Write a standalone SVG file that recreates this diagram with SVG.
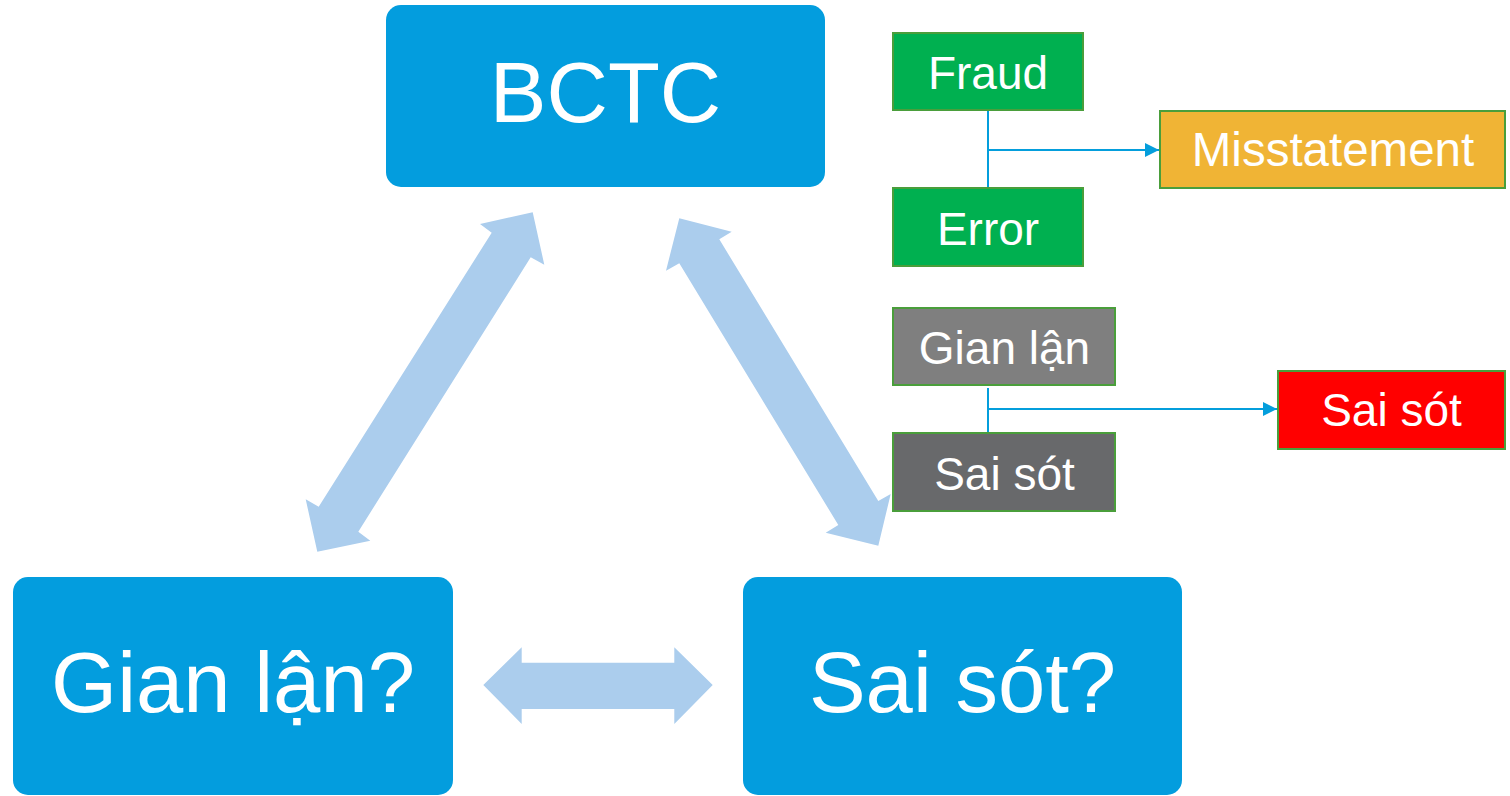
<svg xmlns="http://www.w3.org/2000/svg" width="1510" height="796" viewBox="0 0 1510 796">
  <style>
    .main { fill: #039DDE; }
    .big { font-family: "Liberation Sans", Arial, sans-serif; font-size: 85px; fill: #FFFFFF; text-anchor: middle; }
    .small { font-family: "Liberation Sans", Arial, sans-serif; font-size: 46px; fill: #FFFFFF; text-anchor: middle; }
    .sbox { stroke: #4A9E3B; stroke-width: 2; }
    .fat { fill: #ABCDED; }
    .conn { stroke: #049EDC; stroke-width: 2; fill: none; }
  </style>
  <defs>
    <marker id="ah" viewBox="0 0 14 14" refX="14" refY="7" markerWidth="14" markerHeight="14" markerUnits="userSpaceOnUse" orient="auto">
      <path d="M0,0 L14,7 L0,14 Z" fill="#049EDC"/>
    </marker>
  </defs>

  <g id="connectors">
    <polygon class="fat" points="532.7,212.3 544.3,264.7 530.7,257.3 358.3,531.7 370.3,540.7 317.3,551.7 305.7,499.3 318.7,506.7 491.7,232.7 480,224"/>
    <polygon class="fat" points="679.3,218.3 731.7,231.7 719.3,239.3 878.3,501 890.7,494 878.3,545.7 825.7,532.7 838.3,525 679.3,263.3 666,270.7"/>
    <polygon class="fat" points="483.3,685 521.7,647.3 521.7,662.7 674.3,662.7 674.3,647.3 712.7,685 674.3,724 674.3,709 521.7,709 521.7,724"/>
    <line class="conn" x1="988" y1="111" x2="988" y2="188"/>
    <line class="conn" x1="988" y1="150" x2="1159" y2="150" marker-end="url(#ah)"/>
    <line class="conn" x1="988" y1="388" x2="988" y2="433"/>
    <line class="conn" x1="988" y1="409" x2="1277" y2="409" marker-end="url(#ah)"/>
  </g>

  <g id="bctc">
    <rect class="main" x="386" y="5" width="439" height="182" rx="15" ry="15"/>
    <text class="big" x="605.5" y="122">BCTC</text>
  </g>
  <g id="gianlan-main">
    <rect class="main" x="13" y="577" width="440" height="218" rx="15" ry="15"/>
    <text class="big" x="233" y="712">Gian lận?</text>
  </g>
  <g id="saisot-main">
    <rect class="main" x="743" y="577" width="439" height="218" rx="15" ry="15"/>
    <text class="big" x="962.5" y="712">Sai sót?</text>
  </g>

  <g id="fraud">
    <rect class="sbox" x="893" y="33" width="190" height="77" fill="#00B050"/>
    <text class="small" x="988" y="89">Fraud</text>
  </g>
  <g id="error">
    <rect class="sbox" x="893" y="188" width="190" height="78" fill="#00B050"/>
    <text class="small" x="988" y="245">Error</text>
  </g>
  <g id="misstatement">
    <rect class="sbox" x="1160" y="111" width="345" height="77" fill="#F0B435"/>
    <text class="small" x="1333" y="166" style="font-size:47.5px">Misstatement</text>
  </g>
  <g id="gianlan-small">
    <rect class="sbox" x="893" y="308" width="222" height="77" fill="#7F7F7F"/>
    <text class="small" x="1004.5" y="364">Gian lận</text>
  </g>
  <g id="saisot-small">
    <rect class="sbox" x="893" y="433" width="222" height="78" fill="#68696B"/>
    <text class="small" x="1004.5" y="490">Sai sót</text>
  </g>
  <g id="saisot-red">
    <rect class="sbox" x="1278" y="371" width="227" height="78" fill="#FF0000"/>
    <text class="small" x="1391.5" y="426">Sai sót</text>
  </g>
</svg>
